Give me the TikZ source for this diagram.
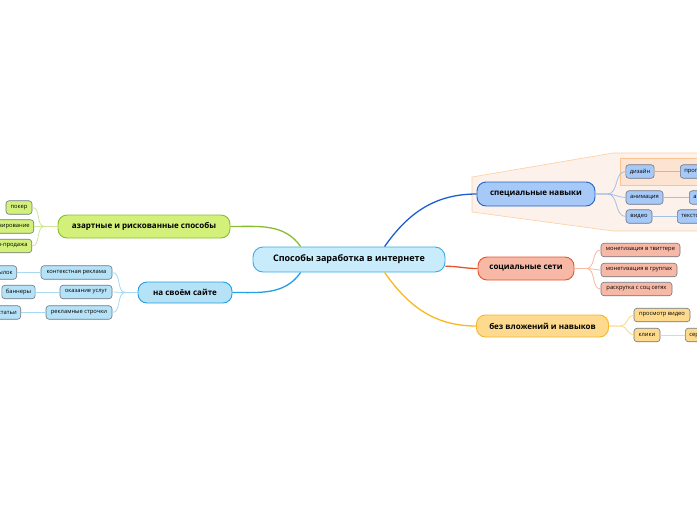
\documentclass[tikz,border=0pt]{standalone}
\usepackage{fontspec}
\setmainfont{Open Sans}
\usetikzlibrary{calc}
\definecolor{cenF}{HTML}{C8ECFC}
\definecolor{cenB}{HTML}{3FA9E8}
\definecolor{blF}{HTML}{A6C9F7}
\definecolor{blB}{HTML}{2563C9}
\definecolor{blL}{HTML}{1A5FD0}
\definecolor{blT}{HTML}{A4C0E8}
\definecolor{rdF}{HTML}{F7B9A6}
\definecolor{rdB}{HTML}{E8542A}
\definecolor{rdT}{HTML}{F5B8A2}
\definecolor{orF}{HTML}{FDDA8E}
\definecolor{orB}{HTML}{F7B52A}
\definecolor{orL}{HTML}{F9B820}
\definecolor{orT}{HTML}{FCD680}
\definecolor{grF}{HTML}{D3F07B}
\definecolor{grB}{HTML}{88BD2C}
\definecolor{grT}{HTML}{CDE59A}
\definecolor{lbF}{HTML}{B6E2F7}
\definecolor{lbB}{HTML}{22A0E2}
\definecolor{lbT}{HTML}{A7D9F3}
\definecolor{leafB}{HTML}{6F7680}
\definecolor{bndF}{HTML}{FDF1EB}
\definecolor{bndB}{HTML}{FCCF9F}
\definecolor{inF}{HTML}{FCE3D2}
\definecolor{inB}{HTML}{F9C48F}
\begin{document}
\begin{tikzpicture}[x=1pt,y=-1pt,
  central/.style={draw=cenB, fill=cenF, rounded corners=10pt, line width=0.9pt,
    minimum width=192pt, minimum height=25pt, inner sep=0pt,
    font=\bfseries\fontsize{9}{10}\selectfont},
  br/.style={rounded corners=9pt, line width=0.9pt, inner sep=0pt,
    font=\bfseries\fontsize{8}{9}\selectfont},
  leaf/.style={draw=leafB, rounded corners=3pt, line width=0.6pt, inner sep=0pt,
    inner xsep=4pt, minimum height=13.5pt, font=\fontsize{5.8}{6.5}\selectfont},
  mainline/.style={line width=1.3pt},
  thin/.style={line width=0.8pt}]
\useasboundingbox (0,0) rectangle (697,520);
\clip (0,0) rectangle (697,520);
% boundary around special skills
\draw[fill=bndF, draw=bndB, line width=0.6pt] (472,177) -- (613,153) -- (705,153) -- (705,231) -- (613,231) -- (472,212) -- cycle;
\draw[fill=inF, draw=inB, line width=0.6pt] (620,158) rectangle (705,185);
% central
\node[central] (c) at (349,259.5) {Способы заработка в интернете};
% branches
\node[br, fill=blF, draw=blB, minimum width=118pt, minimum height=24pt] (s) at (536,194) {специальные навыки};
\node[br, fill=rdF, draw=rdB, minimum width=96pt, minimum height=23pt] (so) at (526,268.5) {социальные сети};
\node[br, fill=orF, draw=orB, minimum width=132pt, minimum height=22pt] (w) at (542.5,326) {без вложений и навыков};
\node[br, fill=grF, draw=grB, minimum width=172pt, minimum height=23pt] (a) at (144,226.5) {азартные и рискованные способы};
\node[br, fill=lbF, draw=lbB, minimum width=94pt, minimum height=21pt] (o) at (185,292.5) {на своём сайте};
% special children
\node[leaf, fill=blF, minimum width=28pt] (d1) at (640,171.5) {дизайн};
\node[leaf, fill=blF, anchor=west] (d1g) at (680,171.5) {программирование};
\node[leaf, fill=blF, minimum width=37pt] (d2) at (644.5,197.5) {анимация};
\node[leaf, fill=blF, anchor=west] (d2g) at (689,197.5) {аниматор};
\node[leaf, fill=blF, minimum width=26pt] (d3) at (639,216.5) {видео};
\node[leaf, fill=blF, anchor=west] (d3g) at (677,216.5) {текстовые видео};
% social children
\node[leaf, fill=rdF, minimum width=79pt] (so1) at (640.5,250) {монетизация в твиттере};
\node[leaf, fill=rdF, minimum width=76pt] (so2) at (639,270) {монетизация в группах};
\node[leaf, fill=rdF, minimum width=71pt] (so3) at (636.5,289) {раскрутка с соц сетях};
% without children
\node[leaf, fill=orF, minimum width=56pt] (w1) at (662,315) {просмотр видео};
\node[leaf, fill=orF, minimum width=26pt] (w2) at (647,335) {клики};
\node[leaf, fill=orF, anchor=west] (w2g) at (685,335) {серфинг};
% azart children
\node[leaf, fill=grF, minimum width=26pt] (a1) at (19,207.5) {покер};
\node[leaf, fill=grF, anchor=east] (a2) at (34,226.5) {прогнозирование};
\node[leaf, fill=grF, anchor=east] (a3) at (32,246) {купля-продажа};
% own site children
\node[leaf, fill=lbF, minimum width=71pt] (o1) at (76.5,272.5) {контекстная реклама};
\node[leaf, fill=lbF, minimum width=52pt] (o2) at (86,292) {оказание услуг};
\node[leaf, fill=lbF, minimum width=66pt] (o3) at (79,312.5) {рекламные строчки};
\node[leaf, fill=lbF, anchor=east] (o1g) at (17,272.5) {ссылок};
\node[leaf, fill=lbF, minimum width=33pt] (o2g) at (18.5,292) {баннеры};
\node[leaf, fill=lbF, anchor=east] (o3g) at (21,312.5) {статьи};
% main connectors
\draw[mainline, blL] (c.20) to[out=55,in=180] (s.west);
\draw[mainline, grB] (c.165) to[out=125,in=0] (a.east);
\draw[mainline, lbB] (c.195) to[out=235,in=0] (o.east);
\draw[mainline, rdB] (c.-4) to[out=0,in=180] (so.west);
\draw[mainline, orL] (c.-20) to[out=-55,in=180] (w.west);
% fork points
\coordinate (sf) at ($(s.east)+(12,0)$);
\coordinate (sof) at ($(so.east)+(12,0)$);
\coordinate (wf) at ($(w.east)+(12,0)$);
\coordinate (af) at ($(a.west)+(-13,0)$);
\coordinate (of) at ($(o.west)+(-12,0)$);
% child connectors
\foreach \n in {d1,d2,d3} \draw[thin, blT] (s.east) -- (sf) to[out=0,in=180] (\n.west);
\foreach \n in {so1,so2,so3} \draw[thin, rdT] (so.east) -- (sof) to[out=0,in=180] (\n.west);
\foreach \n in {w1,w2} \draw[thin, orT] (w.east) -- (wf) to[out=0,in=180] (\n.west);
\foreach \n in {a1,a2,a3} \draw[thin, grT] (a.west) -- (af) to[out=180,in=0] (\n.east);
\foreach \n in {o1,o2,o3} \draw[thin, lbT] (o.west) -- (of) to[out=180,in=0] (\n.east);
\draw[thin, blT] (d1.east) -- (d1g.west);
\draw[thin, blT] (d2.east) -- (d2g.west);
\draw[thin, blT] (d3.east) -- (d3g.west);
\draw[thin, orT] (w2.east) -- (w2g.west);
\draw[thin, lbT] (o1.west) -- (o1g.east);
\draw[thin, lbT] (o2.west) -- (o2g.east);
\draw[thin, lbT] (o3.west) -- (o3g.east);
\end{tikzpicture}
\end{document}
